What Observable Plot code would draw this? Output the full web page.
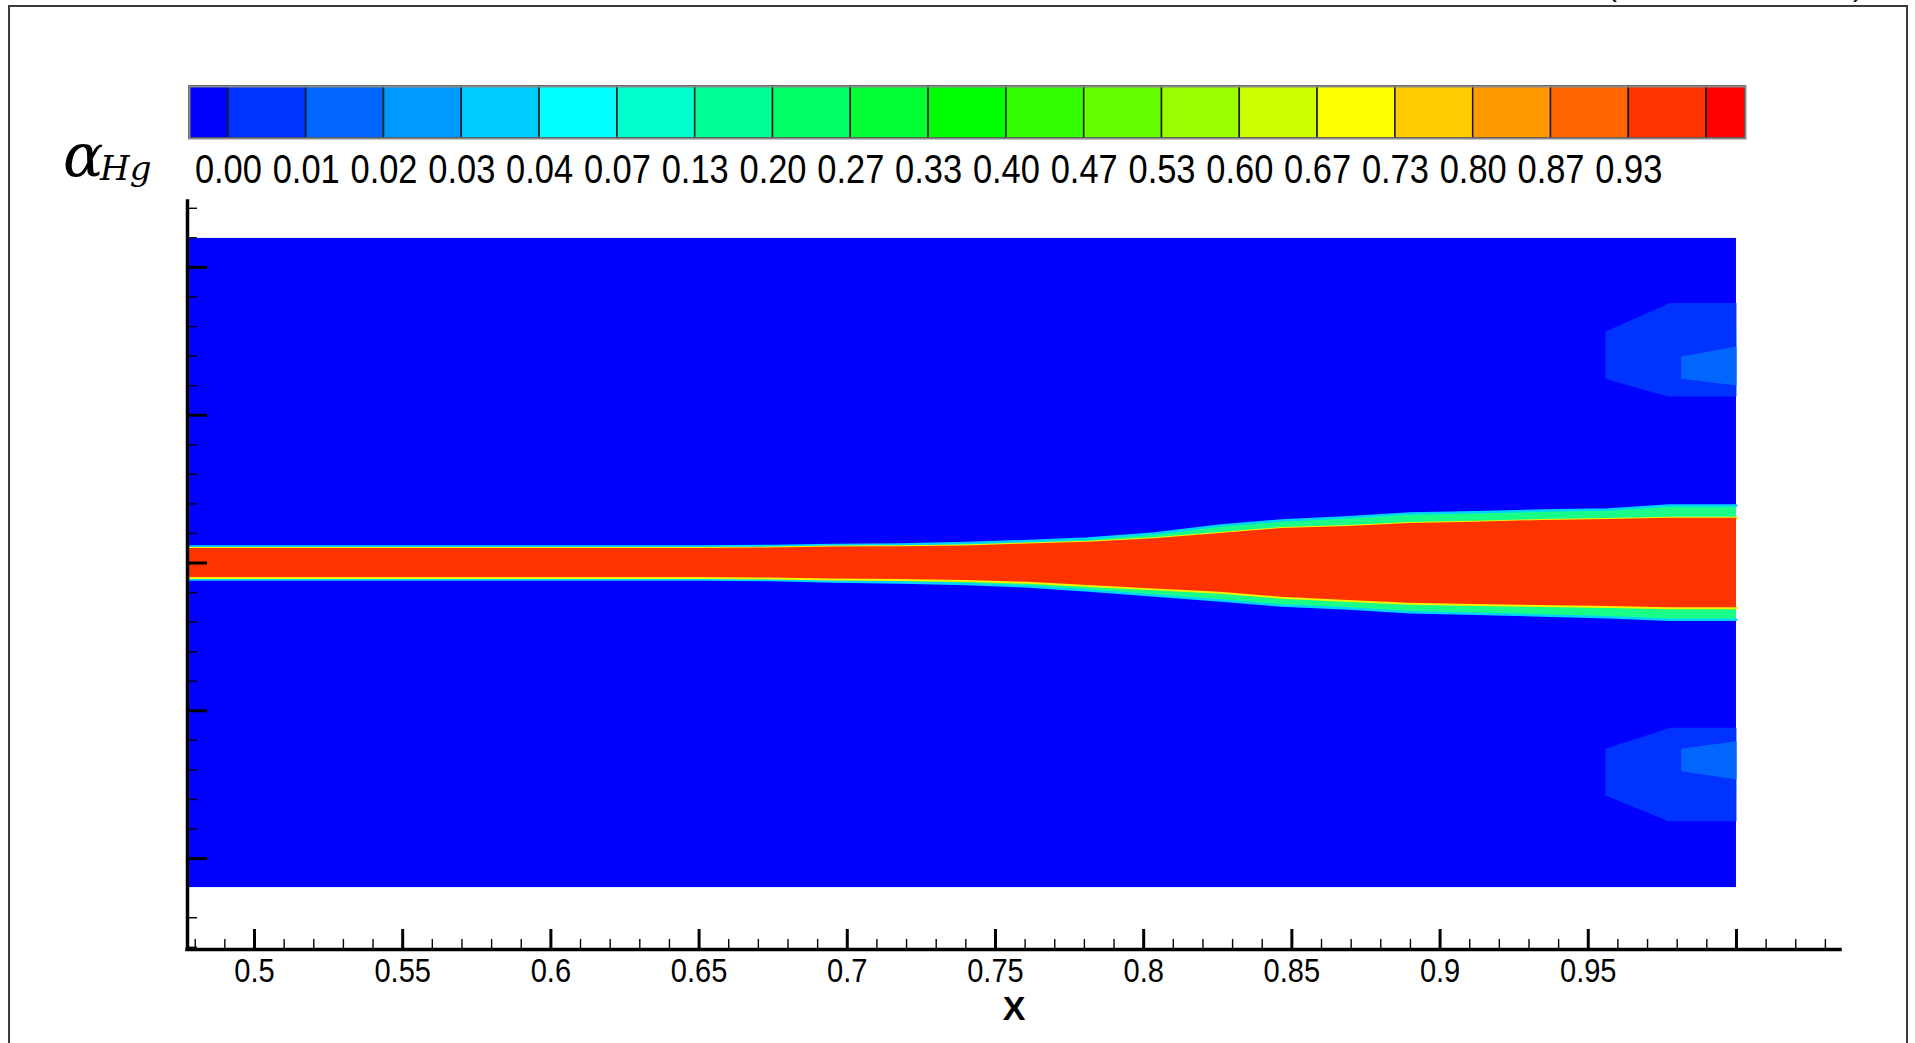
<!DOCTYPE html>
<html>
<head>
<meta charset="utf-8">
<script src="https://cdn.jsdelivr.net/npm/d3@7"></script>
<script src="https://cdn.jsdelivr.net/npm/@observablehq/plot@0.6"></script>
<style>
  html, body { margin: 0; padding: 0; background: #fff; }
  #page { position: relative; width: 1915px; height: 1043px; overflow: hidden; background: #fff; }
  #border { position: absolute; left: 8px; top: 5px; width: 1900px; height: 1200px; border: 2px solid #3a3a3a; box-sizing: border-box; }
  #main, #cb { position: absolute; left: 0; top: 0; }
  .sym { position: absolute; font-family: "DejaVu Serif", serif; font-style: italic; white-space: nowrap; color: #000; }
  #alpha { left: 63px; top: 125px; font-size: 60px; line-height: 60px; }
  #sub { left: 100px; top: 151px; font-size: 34px; line-height: 34px; }
  .cut { position: absolute; top: -29px; font-family: "Liberation Sans", Arial, sans-serif; font-size: 30px; line-height: 30px; color: #000; }
</style>
</head>
<body>
<div id="page">
  <div id="border"></div>
  <div id="main"></div>
  <div id="cb"></div>
  <span class="sym" id="alpha">α</span><span class="sym" id="sub">Hg</span>
  <span class="cut" style="left:1607px">(</span>
  <span class="cut" style="left:1853px">)</span>
</div>
<script>
// ---------------- Colour legend (contour levels) ----------------
const levelColors = ["#0000FF","#0033FF","#0066FF","#0099FF","#00CCFF","#00FFFF","#00FFCC",
  "#00FF99","#00FF66","#00FF33","#00FF00","#33FF00","#66FF00","#99FF00","#CCFF00","#FFFF00",
  "#FFCC00","#FF9900","#FF6600","#FF3300","#FF0000"];
const levelLabels = ["0.00","0.01","0.02","0.03","0.04","0.07","0.13","0.20","0.27","0.33",
  "0.40","0.47","0.53","0.60","0.67","0.73","0.80","0.87","0.93"];

// ---------------- Axes ----------------
const xAxisRange = [0.4774, 1.0351];
const yAxisRange = [-0.02615, 0.02446];
const xMajorTicks = [0.5, 0.55, 0.6, 0.65, 0.7, 0.75, 0.8, 0.85, 0.9, 0.95, 1.0];
const xMinorTicks = [0.48, 0.49, 0.51, 0.52, 0.53, 0.54, 0.56, 0.57, 0.58, 0.59, 0.61, 0.62, 0.63, 0.64,
  0.66, 0.67, 0.68, 0.69, 0.71, 0.72, 0.73, 0.74, 0.76, 0.77, 0.78, 0.79, 0.81, 0.82, 0.83, 0.84,
  0.86, 0.87, 0.88, 0.89, 0.91, 0.92, 0.93, 0.94, 0.96, 0.97, 0.98, 0.99, 1.01, 1.02, 1.03];
const xTickValues = [0.5, 0.55, 0.6, 0.65, 0.7, 0.75, 0.8, 0.85, 0.9, 0.95];
const xTickLabels = ["0.5","0.55","0.6","0.65","0.7","0.75","0.8","0.85","0.9","0.95"];
const yMajorTicks = [-0.02, -0.01, 0, 0.01, 0.02];
const yMinorTicks = [-0.026, -0.024, -0.018, -0.016, -0.014, -0.012, -0.008, -0.006, -0.004, -0.002,
  0.002, 0.004, 0.006, 0.008, 0.012, 0.014, 0.016, 0.018, 0.022, 0.024];
const xAxisTitle = "X";

// ---------------- Field (contour) ----------------
const fieldX = [0.4781, 1.0];
const fieldY = [-0.02196, 0.02196];
// jet: x stations, edge of the core (alpha ~ 1) and outer edge of the mixing fringe
const jetX        = [0.4781, 0.6505, 0.6741, 0.6953, 0.7180, 0.7399, 0.7611, 0.7814, 0.8036, 0.8259, 0.8465, 0.8691, 0.8897, 0.9119, 0.9345, 0.9568, 0.9774, 1.0];
const coreUpper   = [0.00098, 0.00098, 0.00101, 0.00108, 0.00110, 0.00115, 0.00129, 0.00141, 0.00164, 0.00200, 0.00233, 0.00247, 0.00267, 0.00276, 0.00288, 0.00294, 0.00303, 0.00303];
const fringeUpper = [0.00112, 0.00112, 0.00115, 0.00122, 0.00125, 0.00135, 0.00149, 0.00166, 0.00200, 0.00254, 0.00288, 0.00310, 0.00335, 0.00344, 0.00355, 0.00362, 0.00389, 0.00389];
const coreLower   = [-0.00098, -0.00098, -0.00101, -0.00108, -0.00112, -0.00118, -0.00130, -0.00152, -0.00175, -0.00198, -0.00231, -0.00254, -0.00272, -0.00281, -0.00288, -0.00294, -0.00303, -0.00303];
const fringeLower = [-0.00112, -0.00112, -0.00115, -0.00125, -0.00132, -0.00142, -0.00159, -0.00186, -0.00220, -0.00254, -0.00288, -0.00308, -0.00333, -0.00344, -0.00355, -0.00367, -0.00384, -0.00384];
// weak alpha patches near the outlet (polygon vertices [x, y])
const upperPatchOuter = [[0.9558, 0.01566], [0.9777, 0.01760], [1.0, 0.01760], [1.0, 0.01127], [0.9767, 0.01127], [0.9558, 0.01246]];
const upperPatchInner = [[0.9814, 0.01397], [1.0, 0.01465], [1.0, 0.01201], [0.9814, 0.01246]];
const lowerPatchOuter = [[0.9558, -0.01257], [0.9777, -0.01115], [1.0, -0.01115], [1.0, -0.01747], [0.9771, -0.01747], [0.9558, -0.01573]];
const lowerPatchInner = [[0.9814, -0.01257], [1.0, -0.01206], [1.0, -0.01465], [0.9814, -0.01409]];

// ---------------- Build tables ----------------
const jet = jetX.map((x, i) => ({x, cu: coreUpper[i], cl: coreLower[i], fu: fringeUpper[i], fl: fringeLower[i]}));
const cbSegs = levelColors.map((c, i) => ({
  x1: i === 0 ? 0.5 : i,
  x2: i === levelColors.length - 1 ? levelColors.length - 0.5 : i + 1,
  y1: 0, y2: 1, c
}));
const cbTicks = levelLabels.map((t, i) => ({pos: i + 1, t}));
const xLabels = xTickValues.map((v, i) => ({v, t: xTickLabels[i]}));

const W = 1915, H = 1043;
const mL = 187, mR = 75, mT = 201, mB = 94;
const frameW = W - mL - mR, frameH = H - mT - mB;
const FONT = "'Liberation Sans', Arial, Helvetica, sans-serif";

const patch = (pts, color) => Plot.line(pts, {x: d => d[0], y: d => d[1], fill: color, stroke: "none"});

const main = Plot.plot({
  width: W, height: H,
  marginLeft: mL, marginRight: mR, marginTop: mT, marginBottom: mB,
  x: {domain: xAxisRange, axis: null},
  y: {domain: yAxisRange, axis: null},
  color: {type: "identity"},
  style: {background: "transparent", fontFamily: FONT, color: "#000"},
  marks: [
    Plot.rect([{}], {x1: () => fieldX[0], x2: () => fieldX[1], y1: () => fieldY[0], y2: () => fieldY[1], fill: levelColors[0]}),
    patch(upperPatchOuter, levelColors[1]),
    patch(upperPatchInner, levelColors[2]),
    patch(lowerPatchOuter, levelColors[1]),
    patch(lowerPatchInner, levelColors[2]),
    Plot.areaY(jet, {x: "x", y1: "fl", y2: "fu", fill: "#19FF88"}),
    Plot.line(jet, {x: "x", y: "fu", stroke: "#00D2FF", strokeWidth: 2.5}),
    Plot.line(jet, {x: "x", y: "fl", stroke: "#00D2FF", strokeWidth: 2.5}),
    Plot.line(jet, {x: "x", y: "cu", stroke: "#F5F000", strokeWidth: 3}),
    Plot.line(jet, {x: "x", y: "cl", stroke: "#F5F000", strokeWidth: 3}),
    Plot.areaY(jet, {x: "x", y1: "cl", y2: "cu", fill: levelColors[19]}),
    // ticks (inward)
    Plot.tickY(yMinorTicks, {y: d => d, insetRight: frameW - 10, stroke: "#000", strokeWidth: 1.4}),
    Plot.tickY(yMajorTicks, {y: d => d, insetRight: frameW - 20, stroke: "#000", strokeWidth: 3}),
    Plot.tickX(xMinorTicks, {x: d => d, insetTop: frameH - 10, stroke: "#000", strokeWidth: 1.4}),
    Plot.tickX(xMajorTicks, {x: d => d, insetTop: frameH - 20, stroke: "#000", strokeWidth: 3}),
    // axis lines
    Plot.ruleX([xAxisRange[0]], {y1: yAxisRange[0], y2: yAxisRange[1], stroke: "#000", strokeWidth: 3.5, strokeLinecap: "square"}),
    Plot.ruleY([yAxisRange[0]], {x1: xAxisRange[0], x2: xAxisRange[1], stroke: "#000", strokeWidth: 3.5, strokeLinecap: "square"}),
    // tick labels and title
    Plot.text(xLabels, {x: "v", y: () => yAxisRange[0], dy: 22, text: "t", fontSize: 33, fill: "#000", textAnchor: "middle", lineAnchor: "middle"}),
    Plot.text([xAxisTitle], {frameAnchor: "bottom", dy: 60, lineAnchor: "middle", text: d => d, fontSize: 34, fontWeight: "bold", fill: "#000"})
  ]
});
document.getElementById("main").appendChild(main);
// tick labels are drawn narrow (condensed), as in the reference
d3.select(main).selectAll('g[aria-label="text"] text')
  .filter(function () { return this.textContent !== xAxisTitle; })
  .each(function () {
    const L = this.getComputedTextLength();
    this.setAttribute("textLength", (L * 0.88).toFixed(1));
    this.setAttribute("lengthAdjust", "spacingAndGlyphs");
  });

const cb = Plot.plot({
  width: W, height: 210,
  marginLeft: 189, marginRight: W - 1745, marginTop: 86, marginBottom: 210 - 138,
  x: {domain: [0.5, levelColors.length - 0.5], axis: null},
  y: {domain: [0, 1], axis: null},
  color: {type: "identity"},
  style: {background: "transparent", fontFamily: FONT, color: "#000"},
  marks: [
    Plot.rect(cbSegs, {x1: "x1", x2: "x2", y1: "y1", y2: "y2", fill: "c", stroke: "#1a1a1a", strokeWidth: 1.5}),
    Plot.frame({stroke: "#8a8a8a", strokeWidth: 2}),
    Plot.text(cbTicks, {x: "pos", y: () => 0, dy: 31, text: "t", fontSize: 41, fill: "#000", textAnchor: "middle", lineAnchor: "middle"})
  ]
});
document.getElementById("cb").appendChild(cb);
d3.select(cb).selectAll('g[aria-label="text"] text')
  .attr("textLength", 67)
  .attr("lengthAdjust", "spacingAndGlyphs");
</script>
</body>
</html>
